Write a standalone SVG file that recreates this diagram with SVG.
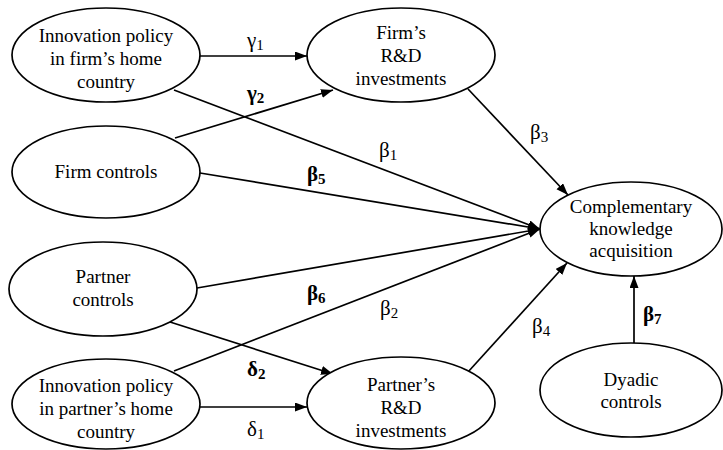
<svg xmlns="http://www.w3.org/2000/svg" width="723" height="450" viewBox="0 0 723 450">
<defs>
<marker id="ah" markerUnits="userSpaceOnUse" markerWidth="13" markerHeight="10" refX="12" refY="4.5" orient="auto">
<path d="M0,0 L12,4.5 L0,9 z" fill="#000"/>
</marker>
<style>
.n{fill:#fff;stroke:#000;stroke-width:1.7}
.t{font-family:'Liberation Serif','DejaVu Serif',serif;font-size:19px;fill:#000;text-anchor:middle}
.c line{stroke:#000;stroke-width:1.7;marker-end:url(#ah)}
.l{font-family:'Liberation Serif','DejaVu Serif',serif;font-size:21px;fill:#000}
.b{font-weight:bold}
.s{font-size:15px}
</style>
</defs>
<rect width="723" height="450" fill="#fff"/>
<g class="c" id="connectors">
<line x1="200" y1="56" x2="307" y2="56"/>
<line x1="175" y1="138" x2="333" y2="90"/>
<line x1="174" y1="90" x2="540" y2="229"/>
<line x1="468" y1="89" x2="568" y2="195"/>
<line x1="200" y1="173" x2="540" y2="229"/>
<line x1="197" y1="288" x2="540" y2="229"/>
<line x1="174" y1="371" x2="540" y2="229"/>
<line x1="170" y1="322" x2="333" y2="374"/>
<line x1="200" y1="407" x2="307" y2="407"/>
<line x1="468" y1="372" x2="567" y2="263"/>
<line x1="634" y1="343" x2="634" y2="276"/>
</g>
<g id="labels">
<text class="l" x="247" y="47">γ<tspan class="s" dy="3">1</tspan></text>
<text class="l b" x="247" y="100">γ<tspan class="s" dy="3">2</tspan></text>
<text class="l" x="379" y="157">β<tspan class="s" dy="3">1</tspan></text>
<text class="l" x="530" y="139">β<tspan class="s" dy="3">3</tspan></text>
<text class="l b" x="307" y="181">β<tspan class="s" dy="3">5</tspan></text>
<text class="l b" x="307" y="300">β<tspan class="s" dy="3">6</tspan></text>
<text class="l" x="380" y="315">β<tspan class="s" dy="3">2</tspan></text>
<text class="l" x="532" y="333">β<tspan class="s" dy="3">4</tspan></text>
<text class="l b" x="643" y="321">β<tspan class="s" dy="3">7</tspan></text>
<text class="l b" x="247" y="376">δ<tspan class="s" dy="3">2</tspan></text>
<text class="l" x="247" y="436">δ<tspan class="s" dy="3">1</tspan></text>
</g>
<g id="innov-firm">
<ellipse class="n" cx="106" cy="55" rx="94" ry="47"/>
<text class="t" x="106" y="42">Innovation policy</text>
<text class="t" x="106" y="65">in firm’s home</text>
<text class="t" x="106" y="88">country</text>
</g>
<g id="firm-rd">
<ellipse class="n" cx="401" cy="55" rx="94" ry="47"/>
<text class="t" x="401" y="39">Firm’s</text>
<text class="t" x="401" y="62">R&amp;D</text>
<text class="t" x="401" y="85">investments</text>
</g>
<g id="firm-controls">
<ellipse class="n" cx="106" cy="172" rx="94" ry="46"/>
<text class="t" x="106" y="178">Firm controls</text>
</g>
<g id="partner-controls">
<ellipse class="n" cx="103" cy="289" rx="94" ry="47"/>
<text class="t" x="103" y="283">Partner</text>
<text class="t" x="103" y="306">controls</text>
</g>
<g id="innov-partner">
<ellipse class="n" cx="106" cy="404" rx="94" ry="45"/>
<text class="t" x="106" y="392">Innovation policy</text>
<text class="t" x="106" y="415">in partner’s home</text>
<text class="t" x="106" y="438">country</text>
</g>
<g id="partner-rd">
<ellipse class="n" cx="401" cy="403" rx="94" ry="46"/>
<text class="t" x="401" y="391">Partner’s</text>
<text class="t" x="401" y="414">R&amp;D</text>
<text class="t" x="401" y="437">investments</text>
</g>
<g id="complementary">
<ellipse class="n" cx="631" cy="229" rx="91" ry="47"/>
<text class="t" x="631" y="213">Complementary</text>
<text class="t" x="631" y="235">knowledge</text>
<text class="t" x="631" y="257">acquisition</text>
</g>
<g id="dyadic">
<ellipse class="n" cx="631" cy="390" rx="91" ry="47"/>
<text class="t" x="631" y="386">Dyadic</text>
<text class="t" x="631" y="408">controls</text>
</g>
</svg>
